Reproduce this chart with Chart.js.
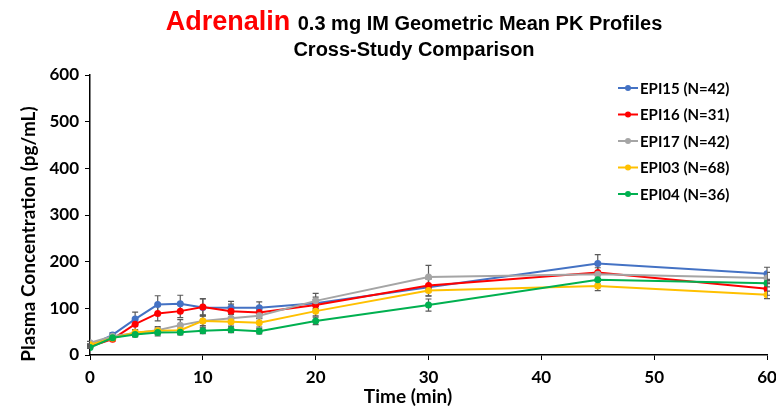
<!DOCTYPE html>
<html>
<head>
<meta charset="utf-8">
<script src="https://cdn.jsdelivr.net/npm/chart.js@4"></script>
<style>
  html, body { margin: 0; padding: 0; background: #fff; }
  #wrap { width: 776px; height: 407px; }
</style>
</head>
<body>
<div id="wrap"><canvas id="pk"></canvas></div>
<script>
// DADOS
const times = [0, 2, 4, 6, 8, 10, 12.5, 15, 20, 30, 45, 60];
const seriesNames = ["EPI15 (N=42)", "EPI16 (N=31)", "EPI17 (N=42)", "EPI03 (N=68)", "EPI04 (N=36)"];
const seriesColors = ["#4472C4", "#FF0000", "#A5A5A5", "#FFC000", "#00B050"];

const epi15 = [20, 43, 77, 108, 110, 102, 101, 101, 111, 145, 196, 174];
const epi16 = [18, 34, 66, 89, 94, 103, 94, 91, 107, 149, 177, 142];
const epi17 = [26, 40, 47, 53, 64, 73, 79, 84, 116, 167, 173, 165];
const epi03 = [22, 36, 48, 52, 53, 73, 71, 69, 94, 138, 148, 129];
const epi04 = [16, 37, 44, 48, 49, 52, 54, 51, 73, 107, 161, 154];

const err15 = [3, 5, 15, 19, 18, 18, 14, 13, 13, 18, 19, 14];
const err16 = [3, 4, 12, 16, 14, 18, 15, 12, 12, 14, 18, 14];
const err17 = [3, 4, 7, 8, 12, 13, 12, 12, 16, 25, 14, 12];
const err03 = [2, 3, 5, 6, 7, 10, 9, 9, 10, 12, 10, 8];
const err04 = [2, 3, 5, 7, 6, 6, 6, 6, 8, 13, 9, 8];

const yTicks = [0, 100, 200, 300, 400, 500, 600];
const xTicks = [0, 10, 20, 30, 40, 50, 60];

const allValues = [epi15, epi16, epi17, epi03, epi04];
const allErrors = [err15, err16, err17, err03, err04];

const axisFont = "Lato, 'Open Sans', sans-serif";
const titleFont = "'Liberation Sans Narrow', 'Liberation Sans', Arial, sans-serif";

// TITULO (duas cores) + TITULOS DOS EIXOS
const titlePlugin = {
  id: "titulo",
  afterDraw(chart) {
    const ctx = chart.ctx;
    const cx = 414;
    ctx.save();
    ctx.textBaseline = "alphabetic";
    ctx.textAlign = "left";
    const red = "Adrenalin ";
    const rest = "0.3 mg IM Geometric Mean PK Profiles";
    ctx.font = "bold 27px " + titleFont;
    const wRed = ctx.measureText(red).width;
    ctx.font = "bold 20px " + titleFont;
    const wRest = ctx.measureText(rest).width;
    let x = cx - (wRed + wRest) / 2;
    ctx.font = "bold 27px " + titleFont;
    ctx.fillStyle = "#FF0000";
    ctx.fillText(red, x, 30);
    ctx.font = "bold 20px " + titleFont;
    ctx.fillStyle = "#000";
    ctx.fillText(rest, x + wRed, 30);
    ctx.textAlign = "center";
    ctx.fillText("Cross-Study Comparison", cx, 56);

    // eixos
    ctx.font = "bold 19px " + axisFont;
    ctx.textBaseline = "middle";
    ctx.fillText("Time (min)", 408, 397);
    ctx.translate(29, 234);
    ctx.rotate(-Math.PI / 2);
    ctx.fillText("Plasma Concentration (pg/mL)", 0, 0);
    ctx.restore();
  }
};

// BARRAS DE ERRO
const errorPlugin = {
  id: "erros",
  beforeDatasetsDraw(chart) {
    const ctx = chart.ctx;
    const xs = chart.scales.x, ys = chart.scales.y;
    ctx.save();
    ctx.strokeStyle = "#595959";
    ctx.lineWidth = 1.2;
    allValues.forEach((vals, s) => {
      vals.forEach((v, i) => {
        const e = allErrors[s][i];
        const px = xs.getPixelForValue(times[i]);
        const top = ys.getPixelForValue(v + e);
        const bot = ys.getPixelForValue(v - e);
        ctx.beginPath();
        ctx.moveTo(px, top); ctx.lineTo(px, bot);
        ctx.moveTo(px - 3, top); ctx.lineTo(px + 3, top);
        ctx.moveTo(px - 3, bot); ctx.lineTo(px + 3, bot);
        ctx.stroke();
      });
    });
    ctx.restore();
  }
};

// LEGENDA
const legendPlugin = {
  id: "legenda",
  afterDraw(chart) {
    const ctx = chart.ctx;
    ctx.save();
    ctx.font = "bold 15px " + axisFont;
    ctx.textBaseline = "middle";
    ctx.textAlign = "left";
    seriesNames.forEach((name, i) => {
      const y = 88 + i * 26.5;
      ctx.strokeStyle = seriesColors[i];
      ctx.fillStyle = seriesColors[i];
      ctx.lineWidth = 2;
      ctx.beginPath();
      ctx.moveTo(618, y); ctx.lineTo(638, y);
      ctx.stroke();
      ctx.beginPath();
      ctx.arc(628, y, 3, 0, Math.PI * 2);
      ctx.fill();
      ctx.fillStyle = "#000";
      ctx.fillText(name, 640, y + 1);
    });
    ctx.restore();
  }
};

const datasets = seriesNames.map((name, s) => ({
  label: name,
  data: times.map((t, i) => ({ x: t, y: allValues[s][i] })),
  borderColor: seriesColors[s],
  backgroundColor: seriesColors[s],
  borderWidth: 2,
  pointRadius: 3.5,
  pointBorderWidth: 0,
  tension: 0,
  order: 4 - s
}));

new Chart(document.getElementById("pk"), {
  type: "line",
  data: { datasets },
  options: {
    responsive: true,
    maintainAspectRatio: false,
    animation: false,
    layout: { padding: { left: 0, right: 9, top: 75, bottom: 0 } },
    plugins: { legend: { display: false }, tooltip: { enabled: false } },
    scales: {
      x: {
        type: "linear",
        min: 0, max: 60,
        afterBuildTicks: axis => { axis.ticks = xTicks.map(v => ({ value: v })); },
        afterFit: axis => { axis.height = 52; axis.paddingLeft = 0; axis.paddingRight = 0; },
        grid: { drawOnChartArea: false, drawTicks: true, tickLength: 5, color: "#000" },
        border: { color: "#000", width: 1.5 },
        ticks: { color: "#000", font: { family: axisFont, size: 17, weight: "bold" }, padding: 7 }
      },
      y: {
        min: 0, max: 600,
        afterBuildTicks: axis => { axis.ticks = yTicks.map(v => ({ value: v })); },
        afterFit: axis => { axis.width = 90; axis.paddingTop = 0; axis.paddingBottom = 0; },
        grid: { drawOnChartArea: false, drawTicks: true, tickLength: 5, color: "#000" },
        border: { color: "#000", width: 1.5 },
        ticks: { color: "#000", font: { family: axisFont, size: 17, weight: "bold" }, padding: 6 }
      }
    }
  },
  plugins: [errorPlugin, titlePlugin, legendPlugin]
});
</script>
</body>
</html>
